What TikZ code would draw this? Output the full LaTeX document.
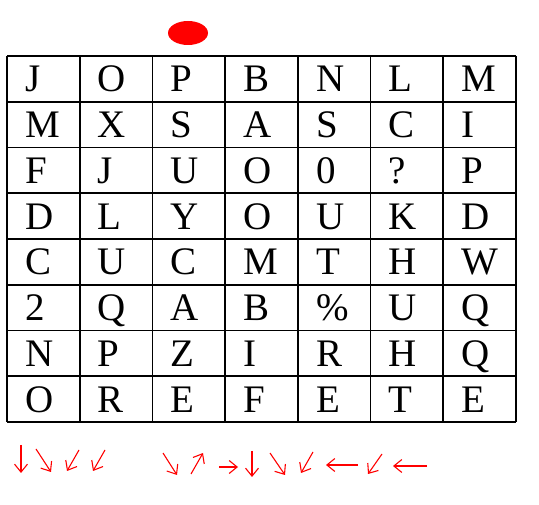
\documentclass[tikz,border=0pt]{standalone}
\usepackage{fontspec}
\setmainfont{Liberation Serif}
\usetikzlibrary{arrows.meta}
\begin{document}
\begin{tikzpicture}[x=1pt,y=-1pt,
  letter/.style={anchor=base west,inner sep=0pt,font=\fontsize{39}{42}\selectfont},
  rule/.style={line width=1.8pt},
  hint/.style={red,line width=1.1pt,-{Straight Barb[length=8pt,width=13pt]}}]
\useasboundingbox (0,0) rectangle (539,505);

% marker above the third column
\fill[red] (188,33) ellipse [x radius=20pt, y radius=12pt];

% the grid
\foreach \i in {0,...,7}
  \draw[rule] (7+\i*72.71,56) -- (7+\i*72.71,422);
\foreach \j in {0,...,8}
  \draw[rule] (7,56+\j*45.75) -- (516,56+\j*45.75);

% letters
\foreach \row [count=\r] in {{J,O,P,B,N,L,M},{M,X,S,A,S,C,I},{F,J,U,O,0,?,P},
  {D,L,Y,O,U,K,D},{C,U,C,M,T,H,W},{2,Q,A,B,\%,U,Q},{N,P,Z,I,R,H,Q},{O,R,E,F,E,T,E}}
  \foreach \ch [count=\c] in \row
    \node[letter] (cell-\r-\c) at (7+\c*72.71-72.71+18, 56+\r*45.75-45.75+36) {\ch};

% arrows under the grid
\foreach \xa/\ya/\xb/\yb in {21/445/21/473, 36/449/51/472, 79/450/67/471, 105/450/93/471,
  163/453/177/475, 191/474/203/453, 219/467/238/467, 252/451/252/477,
  270/453/285/475, 313/452/301/473, 358/465/326/465, 382/454/368/474, 427/466/393/466}
  \draw[hint] (\xa,\ya) -- (\xb,\yb);

\end{tikzpicture}
\end{document}
